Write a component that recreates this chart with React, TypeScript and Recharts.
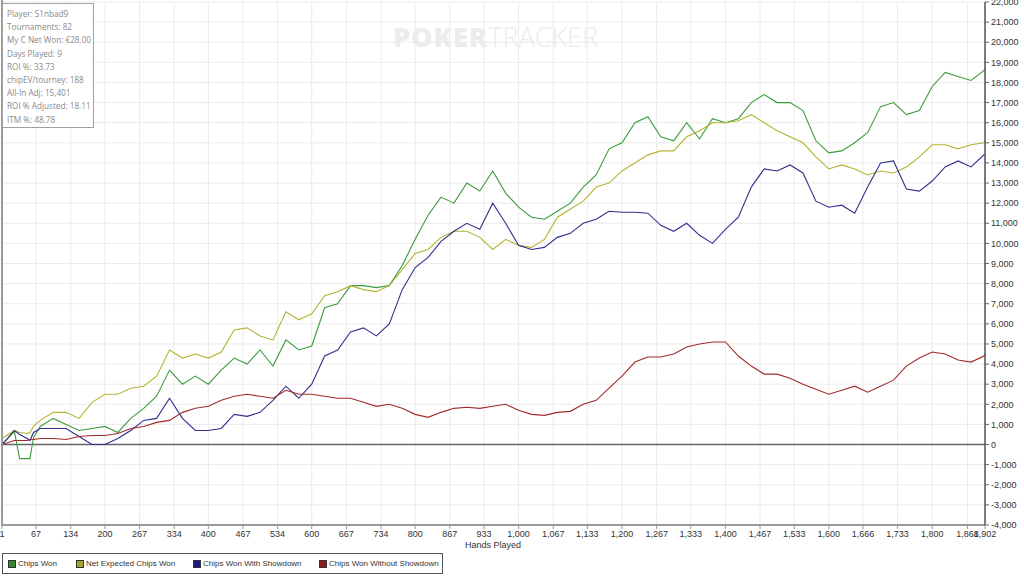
import React from 'react';
import { LineChart, Line, XAxis, YAxis, CartesianGrid, ReferenceLine } from 'recharts';

// hands sampled roughly every 25 hands (a few extra points around the early dip)
const hands = [
  1, 25, 35, 50, 55, 62, 75, 100, 125, 150, 175, 200, 225, 250, 275, 300, 325, 350, 375, 400, 425, 450, 475,
  500, 525, 550, 575, 600, 625, 650, 675, 700, 725, 750, 775, 800, 825, 850, 875, 900, 925, 950, 975,
  1000, 1025, 1050, 1075, 1100, 1125, 1150, 1175, 1200, 1225, 1250, 1275, 1300, 1325, 1350, 1375, 1400, 1425, 1450, 1475,
  1500, 1525, 1550, 1575, 1600, 1625, 1650, 1675, 1700, 1725, 1750, 1775, 1800, 1825, 1850, 1875, 1900, 1902,
];

const chipsWon = [
  0, 650, -700, -700, -700, 350, 900, 1300, 1000, 700, 800, 900, 600, 1300, 1800, 2400, 3700, 3000, 3400, 3000, 3700, 4300, 4000,
  4700, 3900, 5200, 4700, 4900, 6800, 7000, 7900, 7900, 7800, 7900, 8900, 10200, 11400, 12300, 12000, 13000, 12600, 13600, 12500,
  11800, 11300, 11200, 11600, 12000, 12800, 13400, 14700, 15000, 16000, 16300, 15300, 15100, 16000, 15200, 16200, 16000, 16200, 17000, 17400,
  17000, 17000, 16600, 15100, 14500, 14600, 15000, 15500, 16800, 17000, 16400, 16600, 17800, 18500, 18300, 18100, 18600, 18700,
];

const netExpected = [
  300, 700, 600, 550, 600, 900, 1200, 1600, 1600, 1300, 2100, 2500, 2500, 2800, 2900, 3400, 4700, 4300, 4500, 4300, 4600, 5700, 5800,
  5400, 5200, 6600, 6200, 6500, 7400, 7600, 7900, 7700, 7600, 7900, 8700, 9500, 9700, 10300, 10600, 10600, 10300, 9700, 10200,
  9900, 9800, 10200, 11300, 11700, 12100, 12800, 13000, 13600, 14000, 14400, 14600, 14600, 15300, 15600, 16000, 16000, 16100, 16400, 16000,
  15600, 15300, 15000, 14300, 13700, 13900, 13700, 13400, 13600, 13500, 13800, 14300, 14900, 14900, 14700, 14900, 15000, 15100,
];

const withShowdown = [
  0, 700, 500, 300, 200, 600, 800, 800, 800, 400, 0, 0, 300, 700, 1200, 1300, 2300, 1300, 700, 700, 800, 1500, 1400,
  1600, 2200, 2900, 2300, 3000, 4400, 4700, 5600, 5800, 5400, 6000, 7700, 8800, 9300, 10100, 10600, 11000, 10700, 12000, 11000,
  9900, 9700, 9800, 10300, 10500, 11000, 11200, 11600, 11550, 11550, 11500, 10900, 10600, 11000, 10400, 10000, 10700, 11300, 12800, 13700,
  13600, 13900, 13500, 12100, 11800, 11900, 11500, 12800, 14000, 14100, 12700, 12600, 13100, 13800, 14100, 13800, 14400, 14400,
];

const withoutShowdown = [
  0, 200, 200, 200, 250, 250, 300, 300, 250, 400, 450, 450, 550, 800, 900, 1100, 1200, 1600, 1800, 1900, 2200, 2400, 2500,
  2400, 2300, 2700, 2500, 2500, 2400, 2300, 2300, 2100, 1900, 2000, 1800, 1500, 1350, 1600, 1800, 1850, 1800, 1900, 2000,
  1700, 1500, 1450, 1600, 1650, 2000, 2200, 2800, 3400, 4100, 4350, 4350, 4500, 4850, 5000, 5100, 5100, 4400, 3900, 3500,
  3500, 3300, 3000, 2750, 2500, 2700, 2900, 2600, 2900, 3200, 3900, 4300, 4600, 4500, 4200, 4100, 4400, 4500,
];

const xTicks = [
  1, 67, 134, 200, 267, 334, 400, 467, 534, 600, 667, 734, 800, 867, 933, 1000, 1067, 1133, 1200, 1267,
  1333, 1400, 1467, 1533, 1600, 1666, 1733, 1800, 1868, 1902,
];

const yTicks = [
  -4000, -3000, -2000, -1000, 0, 1000, 2000, 3000, 4000, 5000, 6000, 7000, 8000, 9000, 10000, 11000, 12000,
  13000, 14000, 15000, 16000, 17000, 18000, 19000, 20000, 21000, 22000,
];

const stats = [
  'Player: S1nbad9',
  'Tournaments: 82',
  'My C Net Won: €28.00',
  'Days Played: 9',
  'ROI %: 33.73',
  'chipEV/tourney: 188',
  'All-In Adj: 15,401',
  'ROI % Adjusted: 18.11',
  'ITM %: 48.78',
];

const series = [
  { key: 'chipsWon', name: 'Chips Won', color: '#3c9c3c', swatch: '#2d8a2d' },
  { key: 'netExpected', name: 'Net Expected Chips Won', color: '#b4b432', swatch: '#a5a524' },
  { key: 'withShowdown', name: 'Chips Won With Showdown', color: '#30308e', swatch: '#1c1c80' },
  { key: 'withoutShowdown', name: 'Chips Won Without Showdown', color: '#a42a2a', swatch: '#8c1c1c' },
];

const data = hands.map((h, i) => ({
  hand: h,
  chipsWon: chipsWon[i],
  netExpected: netExpected[i],
  withShowdown: withShowdown[i],
  withoutShowdown: withoutShowdown[i],
}));

const fmt = (v: number) => v.toLocaleString('en-US');
const tickFont = { fontSize: 9, fill: '#333', fontFamily: 'Liberation Sans, Arial, sans-serif' };

export default function App() {
  return (
    <div style={{ position: 'absolute', left: 0, top: 0, width: 1024, height: 582, background: '#fff', overflow: 'hidden' }}>
      <LineChart width={1024} height={582} data={data} margin={{ top: 2, right: 0, left: 2, bottom: 0 }}>
        <CartesianGrid stroke="#ebebeb" />
        <XAxis
          dataKey="hand"
          type="number"
          domain={[1, 1902]}
          ticks={xTicks}
          interval={0}
          tickFormatter={fmt}
          tick={tickFont}
          tickSize={4}
          tickLine={{ stroke: '#999' }}
          axisLine={{ stroke: '#9a9a9a', strokeWidth: 2 }}
          height={57}
        />
        <YAxis
          orientation="right"
          type="number"
          domain={[-4000, 22000]}
          ticks={yTicks}
          interval={0}
          tickFormatter={fmt}
          tick={{ ...tickFont, textAnchor: 'start' }}
          tickSize={4}
          tickLine={{ stroke: '#666' }}
          axisLine={{ stroke: '#555', strokeWidth: 1.5 }}
          width={39}
        />
        <ReferenceLine y={0} stroke="#666" strokeWidth={1.5} />
        {series.map((s) => (
          <Line
            key={s.key}
            type="linear"
            dataKey={s.key}
            name={s.name}
            stroke={s.color}
            strokeWidth={1.1}
            dot={false}
            isAnimationActive={false}
          />
        ))}
      </LineChart>

      {/* left border */}
      <div style={{ position: 'absolute', left: 1, top: 0, width: 2, height: 526, background: '#9a9a9a' }} />

      {/* watermark */}
      <div
        style={{
          position: 'absolute', left: 393, top: 18, fontFamily: 'Open Sans, sans-serif', fontSize: 27,
          color: '#ececec', whiteSpace: 'nowrap',
        }}
      >
        <span style={{ fontWeight: 800, letterSpacing: 1 }}>POKER</span>
        <span style={{ fontWeight: 300, letterSpacing: 0 }}>TRACKER</span>
      </div>

      {/* stats box */}
      <div
        style={{
          position: 'absolute', left: 2, top: 3, width: 92, height: 125, border: '1px solid #a0a0a0',
          background: '#fff', fontFamily: 'Open Sans, sans-serif', fontSize: 8.2, color: '#8a8a8a',
          padding: '3px 0 0 4px', boxSizing: 'border-box', lineHeight: '13.2px',
        }}
      >
        {stats.map((t) => (
          <div key={t} style={{ whiteSpace: 'nowrap' }}>{t}</div>
        ))}
      </div>

      {/* x axis title */}
      <div
        style={{
          position: 'absolute', left: 443, top: 540, width: 100, textAlign: 'center',
          fontFamily: 'Liberation Sans, Arial, sans-serif', fontSize: 9, color: '#333',
        }}
      >
        Hands Played
      </div>

      {/* legend */}
      <div
        style={{
          position: 'absolute', left: 2, top: 553, width: 441, height: 21, border: '1px solid #555',
          boxSizing: 'border-box', fontFamily: 'Liberation Sans, Arial, sans-serif', fontSize: 8, color: '#333',
        }}
      >
        {series.map((s, i) => (
          <div
            key={s.key}
            style={{ position: 'absolute', left: [5, 73, 190, 316][i], top: 5, display: 'flex', alignItems: 'center', whiteSpace: 'nowrap' }}
          >
            <span
              style={{
                display: 'inline-block', width: 6, height: 6, background: s.swatch, border: '1px solid #333', marginRight: 2,
              }}
            />
            {s.name}
          </div>
        ))}
      </div>
    </div>
  );
}
